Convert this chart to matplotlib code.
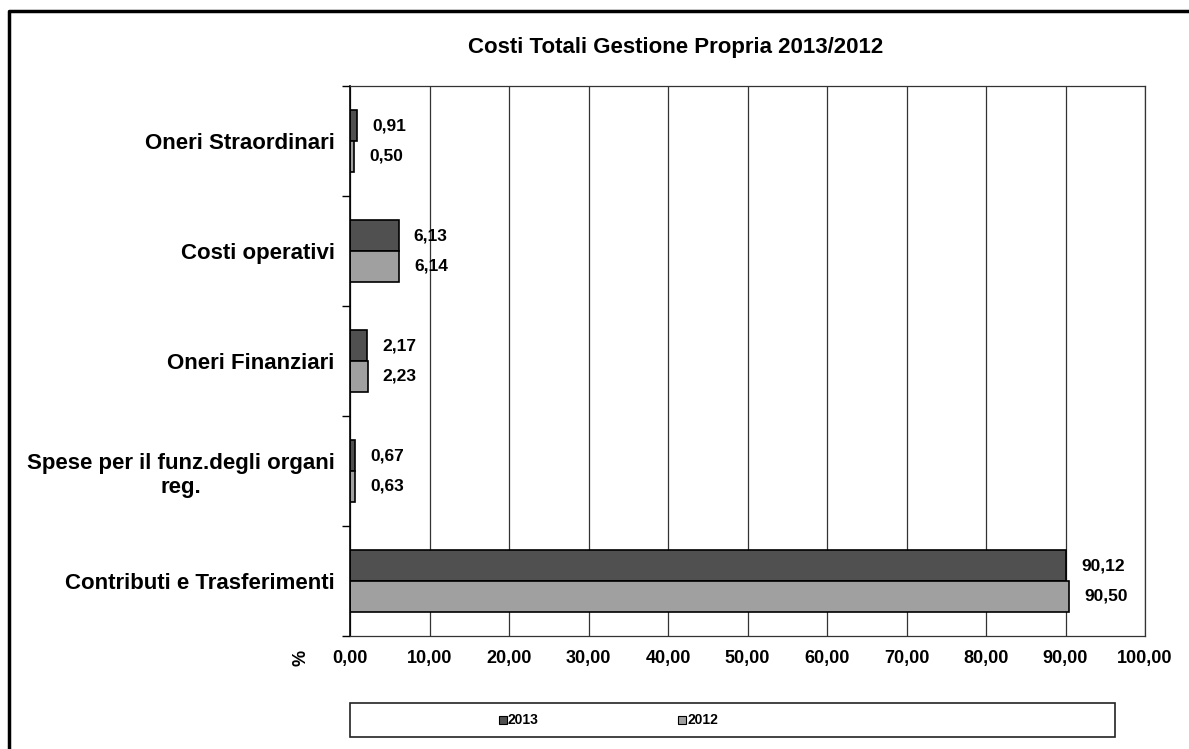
import numpy as np
import matplotlib.pyplot as plt
from matplotlib.patches import Rectangle
from matplotlib.lines import Line2D

plt.rcParams['font.family'] = ['Liberation Sans', 'DejaVu Sans']
plt.rcParams['font.weight'] = 'bold'

# data (top to bottom)
categories = ["Oneri Straordinari", "Costi operativi", "Oneri Finanziari",
              "Spese per il funz.degli organi\nreg.", "Contributi e Trasferimenti"]
v2013 = [0.91, 6.13, 2.17, 0.67, 90.12]
v2012 = [0.50, 6.14, 2.23, 0.63, 90.50]
xticks = [0, 10, 20, 30, 40, 50, 60, 70, 80, 90, 100]
series = ["2013", "2012"]

W, H = 1189, 749
fig = plt.figure(figsize=(W / 100, H / 100), dpi=100)

# plot area in pixel coords: left 350, right 1145, top 86, bottom 636
ax = fig.add_axes([350 / W, 1 - 636 / H, (1145 - 350) / W, (636 - 86) / H])

n = len(categories)
y = np.arange(n)[::-1].astype(float)  # first category at top
bh = 0.28
ax.barh(y + bh / 2, v2013, height=bh, color='#505050', edgecolor='black', lw=1.2, label=series[0])
ax.barh(y - bh / 2, v2012, height=bh, color='#a0a0a0', edgecolor='black', lw=1.2, label=series[1])

def fmt(v):
    return f"{v:.2f}".replace('.', ',')

for yi, a, b in zip(y, v2013, v2012):
    ax.text(a + 1.9, yi + bh / 2, fmt(a), va='center', ha='left', fontsize=12.5, fontweight='bold')
    ax.text(b + 1.9, yi - bh / 2, fmt(b), va='center', ha='left', fontsize=12.5, fontweight='bold')

ax.set_xlim(0, 100)
ax.set_ylim(-0.5, n - 0.5)
ax.set_xticks(xticks)
ax.set_xticklabels([fmt(t) for t in xticks], fontsize=13, fontweight='bold')
ax.tick_params(axis='x', length=0, pad=10)
ax.xaxis.grid(True, color='#333333', lw=0.9)
ax.set_axisbelow(True)

ax.set_yticks(y)
ax.set_yticklabels(categories, fontsize=16, fontweight='bold', ha='right', multialignment='center',
                   linespacing=1.25)
ax.tick_params(axis='y', length=0, pad=11)
# category separator ticks on the left axis
ax.set_yticks(np.arange(-0.5, n), minor=True)
ax.tick_params(axis='y', which='minor', length=6, direction='out', color='black', width=1)
for s in ax.spines.values():
    s.set_color('#333333')
    s.set_linewidth(0.9)
ax.spines['left'].set_color('black')
ax.spines['left'].set_linewidth(1.2)

# "%" label rotated beside the axis
fig.text(301 / W, 1 - 658 / H, "%", rotation=90, ha='center', va='center', fontsize=13, fontweight='bold')

fig.text(676 / W, 1 - 48 / H, "Costi Totali Gestione Propria 2013/2012", ha='center', va='center',
         fontsize=16, fontweight='bold')

# legend box
fig.patches.append(Rectangle((350 / W, 1 - 737 / H), (1115 - 350) / W, 34 / H,
                             transform=fig.transFigure, fill=False, edgecolor='#222222', lw=1.2))
for xp, lab, col in [(499, series[0], '#505050'), (678, series[1], '#a0a0a0')]:
    fig.patches.append(Rectangle((xp / W, 1 - 724 / H), 8 / W, 8 / H, transform=fig.transFigure,
                                 facecolor=col, edgecolor='black', lw=0.8))
    fig.text((xp + 9) / W, 1 - 720 / H, lab, ha='left', va='center', fontsize=10, fontweight='bold')

# outer frame (top and left visible)
fig.lines.append(Line2D([9 / W, 9 / W, 1.0], [0.0, 1 - 11 / H, 1 - 11 / H],
                        transform=fig.transFigure, color='black', lw=2.5))

fig.savefig("out.png", dpi=100)
